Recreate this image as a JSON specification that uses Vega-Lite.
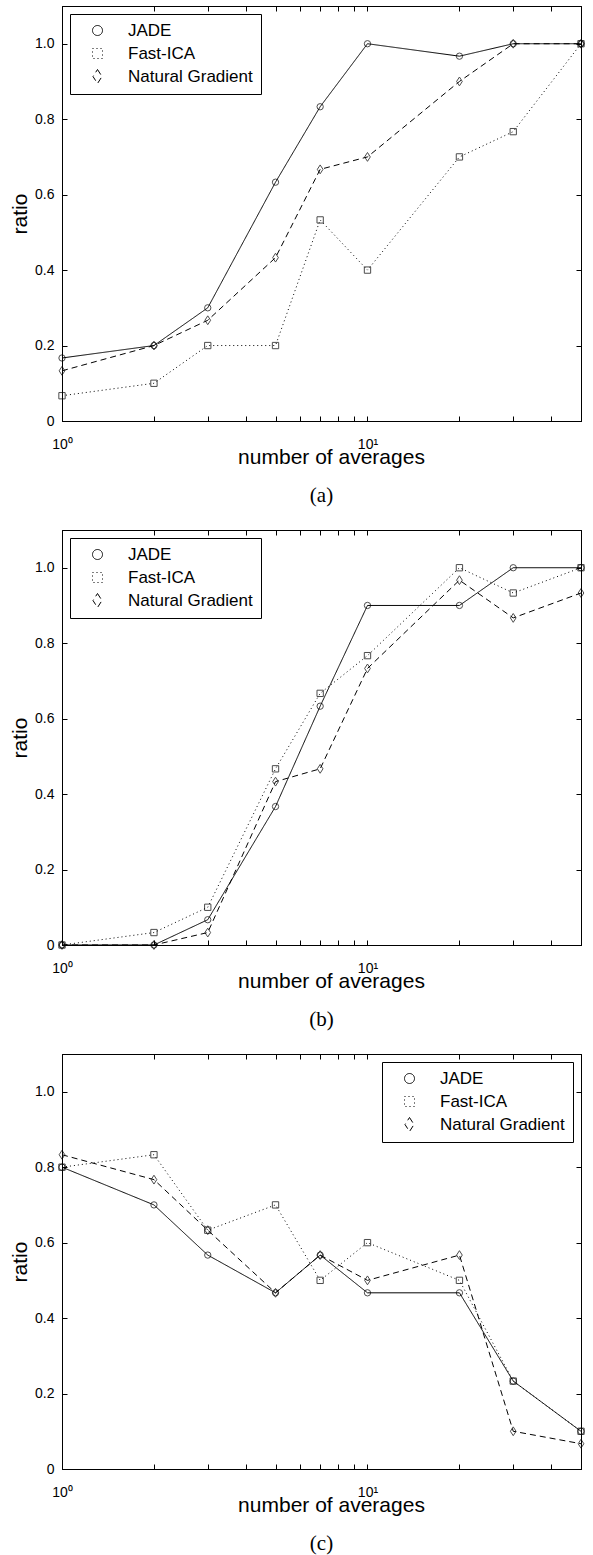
{
  "$schema": "https://vega.github.io/schema/vega-lite/v6.json",
  "autosize": {"type": "pad"},
  "padding": {"left": 9, "top": 5, "right": 11, "bottom": 0},
  "background": "white",
  "spacing": 22,
  "config": {
    "font": "Liberation Sans",
    "view": {"stroke": "black", "strokeWidth": 1},
    "axis": {
      "domainColor": "black", "tickColor": "black", "labelColor": "black", "titleColor": "black",
      "labelFont": "Liberation Sans", "titleFont": "Liberation Sans",
      "labelFontSize": 14, "titleFontSize": 21, "titleFontWeight": "normal",
      "grid": false, "tickSize": -5, "labelOverlap": false, "labelFlush": false
    },
    "legend": {
      "title": null, "offset": 8, "padding": 8, "strokeColor": "black", "fillColor": "white", "cornerRadius": 0,
      "labelFont": "Liberation Sans", "labelFontSize": 17, "labelColor": "black", "labelOffset": 22, "rowPadding": 5,
      "symbolSize": 100, "symbolOffset": 11, "symbolStrokeWidth": 1
    },
    "title": {"font": "Liberation Serif", "fontSize": 21, "fontWeight": "normal", "color": "black"}
  },
  "datasets": {
    "d": [
      {"p": "a", "m": "JADE", "n": 1, "r": 0.167},
      {"p": "a", "m": "JADE", "n": 2, "r": 0.2},
      {"p": "a", "m": "JADE", "n": 3, "r": 0.3},
      {"p": "a", "m": "JADE", "n": 5, "r": 0.633},
      {"p": "a", "m": "JADE", "n": 7, "r": 0.833},
      {"p": "a", "m": "JADE", "n": 10, "r": 1.0},
      {"p": "a", "m": "JADE", "n": 20, "r": 0.967},
      {"p": "a", "m": "JADE", "n": 30, "r": 1.0},
      {"p": "a", "m": "JADE", "n": 50, "r": 1.0},
      {"p": "a", "m": "Fast-ICA", "n": 1, "r": 0.067},
      {"p": "a", "m": "Fast-ICA", "n": 2, "r": 0.1},
      {"p": "a", "m": "Fast-ICA", "n": 3, "r": 0.2},
      {"p": "a", "m": "Fast-ICA", "n": 5, "r": 0.2},
      {"p": "a", "m": "Fast-ICA", "n": 7, "r": 0.533},
      {"p": "a", "m": "Fast-ICA", "n": 10, "r": 0.4},
      {"p": "a", "m": "Fast-ICA", "n": 20, "r": 0.7},
      {"p": "a", "m": "Fast-ICA", "n": 30, "r": 0.767},
      {"p": "a", "m": "Fast-ICA", "n": 50, "r": 1.0},
      {"p": "a", "m": "Natural Gradient", "n": 1, "r": 0.133},
      {"p": "a", "m": "Natural Gradient", "n": 2, "r": 0.2},
      {"p": "a", "m": "Natural Gradient", "n": 3, "r": 0.267},
      {"p": "a", "m": "Natural Gradient", "n": 5, "r": 0.433},
      {"p": "a", "m": "Natural Gradient", "n": 7, "r": 0.667},
      {"p": "a", "m": "Natural Gradient", "n": 10, "r": 0.7},
      {"p": "a", "m": "Natural Gradient", "n": 20, "r": 0.9},
      {"p": "a", "m": "Natural Gradient", "n": 30, "r": 1.0},
      {"p": "a", "m": "Natural Gradient", "n": 50, "r": 1.0},

      {"p": "b", "m": "JADE", "n": 1, "r": 0},
      {"p": "b", "m": "JADE", "n": 2, "r": 0},
      {"p": "b", "m": "JADE", "n": 3, "r": 0.067},
      {"p": "b", "m": "JADE", "n": 5, "r": 0.367},
      {"p": "b", "m": "JADE", "n": 7, "r": 0.633},
      {"p": "b", "m": "JADE", "n": 10, "r": 0.9},
      {"p": "b", "m": "JADE", "n": 20, "r": 0.9},
      {"p": "b", "m": "JADE", "n": 30, "r": 1.0},
      {"p": "b", "m": "JADE", "n": 50, "r": 1.0},
      {"p": "b", "m": "Fast-ICA", "n": 1, "r": 0},
      {"p": "b", "m": "Fast-ICA", "n": 2, "r": 0.033},
      {"p": "b", "m": "Fast-ICA", "n": 3, "r": 0.1},
      {"p": "b", "m": "Fast-ICA", "n": 5, "r": 0.467},
      {"p": "b", "m": "Fast-ICA", "n": 7, "r": 0.667},
      {"p": "b", "m": "Fast-ICA", "n": 10, "r": 0.767},
      {"p": "b", "m": "Fast-ICA", "n": 20, "r": 1.0},
      {"p": "b", "m": "Fast-ICA", "n": 30, "r": 0.933},
      {"p": "b", "m": "Fast-ICA", "n": 50, "r": 1.0},
      {"p": "b", "m": "Natural Gradient", "n": 1, "r": 0},
      {"p": "b", "m": "Natural Gradient", "n": 2, "r": 0},
      {"p": "b", "m": "Natural Gradient", "n": 3, "r": 0.033},
      {"p": "b", "m": "Natural Gradient", "n": 5, "r": 0.433},
      {"p": "b", "m": "Natural Gradient", "n": 7, "r": 0.467},
      {"p": "b", "m": "Natural Gradient", "n": 10, "r": 0.733},
      {"p": "b", "m": "Natural Gradient", "n": 20, "r": 0.967},
      {"p": "b", "m": "Natural Gradient", "n": 30, "r": 0.867},
      {"p": "b", "m": "Natural Gradient", "n": 50, "r": 0.933},

      {"p": "c", "m": "JADE", "n": 1, "r": 0.8},
      {"p": "c", "m": "JADE", "n": 2, "r": 0.7},
      {"p": "c", "m": "JADE", "n": 3, "r": 0.567},
      {"p": "c", "m": "JADE", "n": 5, "r": 0.467},
      {"p": "c", "m": "JADE", "n": 7, "r": 0.567},
      {"p": "c", "m": "JADE", "n": 10, "r": 0.467},
      {"p": "c", "m": "JADE", "n": 20, "r": 0.467},
      {"p": "c", "m": "JADE", "n": 30, "r": 0.233},
      {"p": "c", "m": "JADE", "n": 50, "r": 0.1},
      {"p": "c", "m": "Fast-ICA", "n": 1, "r": 0.8},
      {"p": "c", "m": "Fast-ICA", "n": 2, "r": 0.833},
      {"p": "c", "m": "Fast-ICA", "n": 3, "r": 0.633},
      {"p": "c", "m": "Fast-ICA", "n": 5, "r": 0.7},
      {"p": "c", "m": "Fast-ICA", "n": 7, "r": 0.5},
      {"p": "c", "m": "Fast-ICA", "n": 10, "r": 0.6},
      {"p": "c", "m": "Fast-ICA", "n": 20, "r": 0.5},
      {"p": "c", "m": "Fast-ICA", "n": 30, "r": 0.233},
      {"p": "c", "m": "Fast-ICA", "n": 50, "r": 0.1},
      {"p": "c", "m": "Natural Gradient", "n": 1, "r": 0.833},
      {"p": "c", "m": "Natural Gradient", "n": 2, "r": 0.767},
      {"p": "c", "m": "Natural Gradient", "n": 3, "r": 0.633},
      {"p": "c", "m": "Natural Gradient", "n": 5, "r": 0.467},
      {"p": "c", "m": "Natural Gradient", "n": 7, "r": 0.567},
      {"p": "c", "m": "Natural Gradient", "n": 10, "r": 0.5},
      {"p": "c", "m": "Natural Gradient", "n": 20, "r": 0.567},
      {"p": "c", "m": "Natural Gradient", "n": 30, "r": 0.1},
      {"p": "c", "m": "Natural Gradient", "n": 50, "r": 0.067}
    ]
  },
  "resolve": {"scale": {"shape": "independent", "strokeDash": "independent"}, "legend": {"shape": "independent", "strokeDash": "independent"}},
  "vconcat": [
    {
      "width": 519, "height": 415,
      "title": {"text": "(a)", "orient": "bottom", "offset": 18},
      "data": {"name": "d"},
      "transform": [{"filter": "datum.p == 'a'"}],
      "layer": [
        {
          "mark": {"type": "line", "color": "black", "strokeWidth": 1},
          "encoding": {
            "x": {"field": "n", "type": "quantitative", "scale": {"type": "log", "domain": [1, 50], "nice": false}, "axis": {"title": "number of averages", "titleX": 269, "values": [1,2,3,4,5,6,7,8,9,10,20,30,40,50], "labelExpr": "datum.value == 1 ? '10⁰' : datum.value == 10 ? '10¹' : ''", "labelPadding": 21, "titlePadding": -5}},
            "y": {"field": "r", "type": "quantitative", "scale": {"domain": [0, 1.1], "nice": false}, "axis": {"title": "ratio", "values": [0,0.2,0.4,0.6,0.8,1.0], "labelExpr": "datum.value == 0 ? '0' : format(datum.value, '.1f')", "labelPadding": 13, "titlePadding": 4}},
            "strokeDash": {"field": "m", "type": "nominal", "scale": {"domain": ["JADE", "Fast-ICA", "Natural Gradient"], "range": [[1, 0], [1, 3], [6, 4]]},
              "legend": {"orient": "top-left"}}
          }
        },
        {
          "mark": {"type": "point", "filled": false, "color": "black", "strokeWidth": 1, "size": 40},
          "encoding": {
            "x": {"field": "n", "type": "quantitative", "axis": null},
            "y": {"field": "r", "type": "quantitative", "axis": null},
            "shape": {"field": "m", "type": "nominal", "scale": {"domain": ["JADE", "Fast-ICA", "Natural Gradient"], "range": ["circle", "square", "M0,-1.4L0.9,0L0,1.4L-0.9,0Z"]}, "legend": null}
          }
        },
        {
          "mark": {"type": "line", "opacity": 0},
          "encoding": {
            "x": {"field": "n", "type": "quantitative", "axis": {"orient": "top", "labels": false, "title": null, "values": [1,2,3,4,5,6,7,8,9,10,20,30,40,50]}},
            "y": {"field": "r", "type": "quantitative", "axis": {"orient": "right", "labels": false, "title": null, "values": [0,0.2,0.4,0.6,0.8,1.0]}}
          }
        }
      ],
      "resolve": {"axis": {"x": "independent", "y": "independent"}}
    },
    {
      "width": 519, "height": 415,
      "title": {"text": "(b)", "orient": "bottom", "offset": 18},
      "data": {"name": "d"},
      "transform": [{"filter": "datum.p == 'b'"}],
      "layer": [
        {
          "mark": {"type": "line", "color": "black", "strokeWidth": 1},
          "encoding": {
            "x": {"field": "n", "type": "quantitative", "scale": {"type": "log", "domain": [1, 50], "nice": false}, "axis": {"title": "number of averages", "titleX": 269, "values": [1,2,3,4,5,6,7,8,9,10,20,30,40,50], "labelExpr": "datum.value == 1 ? '10⁰' : datum.value == 10 ? '10¹' : ''", "labelPadding": 21, "titlePadding": -5}},
            "y": {"field": "r", "type": "quantitative", "scale": {"domain": [0, 1.1], "nice": false}, "axis": {"title": "ratio", "values": [0,0.2,0.4,0.6,0.8,1.0], "labelExpr": "datum.value == 0 ? '0' : format(datum.value, '.1f')", "labelPadding": 13, "titlePadding": 4}},
            "strokeDash": {"field": "m", "type": "nominal", "scale": {"domain": ["JADE", "Fast-ICA", "Natural Gradient"], "range": [[1, 0], [1, 3], [6, 4]]},
              "legend": {"orient": "top-left"}}
          }
        },
        {
          "mark": {"type": "point", "filled": false, "color": "black", "strokeWidth": 1, "size": 40},
          "encoding": {
            "x": {"field": "n", "type": "quantitative", "axis": null},
            "y": {"field": "r", "type": "quantitative", "axis": null},
            "shape": {"field": "m", "type": "nominal", "scale": {"domain": ["JADE", "Fast-ICA", "Natural Gradient"], "range": ["circle", "square", "M0,-1.4L0.9,0L0,1.4L-0.9,0Z"]}, "legend": null}
          }
        },
        {
          "mark": {"type": "line", "opacity": 0},
          "encoding": {
            "x": {"field": "n", "type": "quantitative", "axis": {"orient": "top", "labels": false, "title": null, "values": [1,2,3,4,5,6,7,8,9,10,20,30,40,50]}},
            "y": {"field": "r", "type": "quantitative", "axis": {"orient": "right", "labels": false, "title": null, "values": [0,0.2,0.4,0.6,0.8,1.0]}}
          }
        }
      ],
      "resolve": {"axis": {"x": "independent", "y": "independent"}}
    },
    {
      "width": 519, "height": 415,
      "title": {"text": "(c)", "orient": "bottom", "offset": 18},
      "data": {"name": "d"},
      "transform": [{"filter": "datum.p == 'c'"}],
      "layer": [
        {
          "mark": {"type": "line", "color": "black", "strokeWidth": 1},
          "encoding": {
            "x": {"field": "n", "type": "quantitative", "scale": {"type": "log", "domain": [1, 50], "nice": false}, "axis": {"title": "number of averages", "titleX": 269, "values": [1,2,3,4,5,6,7,8,9,10,20,30,40,50], "labelExpr": "datum.value == 1 ? '10⁰' : datum.value == 10 ? '10¹' : ''", "labelPadding": 21, "titlePadding": -5}},
            "y": {"field": "r", "type": "quantitative", "scale": {"domain": [0, 1.1], "nice": false}, "axis": {"title": "ratio", "values": [0,0.2,0.4,0.6,0.8,1.0], "labelExpr": "datum.value == 0 ? '0' : format(datum.value, '.1f')", "labelPadding": 13, "titlePadding": 4}},
            "strokeDash": {"field": "m", "type": "nominal", "scale": {"domain": ["JADE", "Fast-ICA", "Natural Gradient"], "range": [[1, 0], [1, 3], [6, 4]]},
              "legend": {"orient": "top-right"}}
          }
        },
        {
          "mark": {"type": "point", "filled": false, "color": "black", "strokeWidth": 1, "size": 40},
          "encoding": {
            "x": {"field": "n", "type": "quantitative", "axis": null},
            "y": {"field": "r", "type": "quantitative", "axis": null},
            "shape": {"field": "m", "type": "nominal", "scale": {"domain": ["JADE", "Fast-ICA", "Natural Gradient"], "range": ["circle", "square", "M0,-1.4L0.9,0L0,1.4L-0.9,0Z"]}, "legend": null}
          }
        },
        {
          "mark": {"type": "line", "opacity": 0},
          "encoding": {
            "x": {"field": "n", "type": "quantitative", "axis": {"orient": "top", "labels": false, "title": null, "values": [1,2,3,4,5,6,7,8,9,10,20,30,40,50]}},
            "y": {"field": "r", "type": "quantitative", "axis": {"orient": "right", "labels": false, "title": null, "values": [0,0.2,0.4,0.6,0.8,1.0]}}
          }
        }
      ],
      "resolve": {"axis": {"x": "independent", "y": "independent"}}
    }
  ]
}
